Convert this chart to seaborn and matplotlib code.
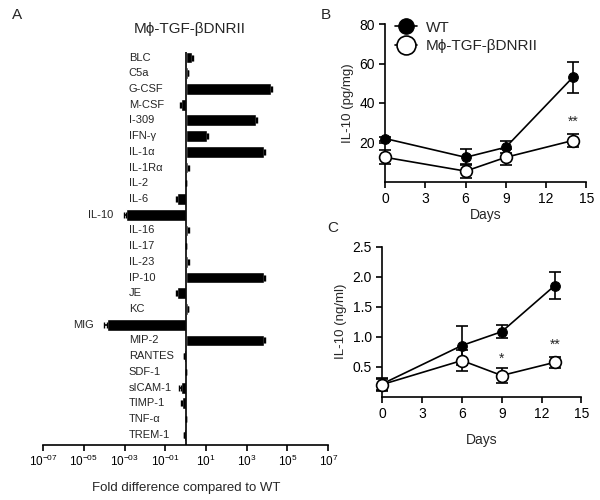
import numpy as np
import matplotlib
matplotlib.use("Agg")
import matplotlib.pyplot as plt
import seaborn as sns
from matplotlib.ticker import NullLocator


# -------------------------------------------------
# DATA
# -------------------------------------------------
cytokines = [
    "BLC", "C5a", "G-CSF", "M-CSF", "I-309", "IFN-γ", "IL-1α", "IL-1Rα",
    "IL-2", "IL-6", "IL-10", "IL-16", "IL-17", "IL-23", "IP-10", "JE", "KC",
    "MIG", "MIP-2", "RANTES", "SDF-1", "sICAM-1", "TIMP-1", "TNF-α", "TREM-1",
]
fold_change = [
    2.1, 1.25, 1.6e4, 0.57, 2.9e3, 11.5, 6.9e3, 1.3,
    1.02, 0.39, 1.15e-3, 1.3, 1.05, 1.3, 6.9e3, 0.39, 1.25,
    1.35e-4, 6.9e3, 0.87, 1.0, 0.57, 0.64, 1.0, 0.87,
]
fold_err = [
    0.3, 0.1, 1.5e3, 0.06, 3e2, 1.0, 7e2, 0.1,
    0.02, 0.05, 0.26e-3, 0.1, 0.02, 0.1, 7e2, 0.06, 0.1,
    0.35e-4, 1.4e3, 0.05, 0.01, 0.08, 0.06, 0.01, 0.05,
]
fold_ticks = [1e-7, 1e-5, 1e-3, 1e-1, 1e1, 1e3, 1e5, 1e7]
fold_tick_labels = ["10$^{-07}$", "10$^{-05}$", "10$^{-03}$", "10$^{-01}$",
                    "10$^{1}$", "10$^{3}$", "10$^{5}$", "10$^{7}$"]

# panel B: IL-10 (pg/mg)
days_b = [0, 6, 9, 14]
wt_b = [22, 12.5, 17.6, 53]
wt_b_err = [1.0, 4.0, 3.0, 8.0]
ko_b = [12.5, 5.5, 12.5, 21]
ko_b_err = [3.5, 3.5, 4.0, 3.5]

# panel C: IL-10 (ng/ml)
days_c = [0, 6, 9, 13]
wt_c = [0.21, 0.85, 1.08, 1.85]
wt_c_err = [0.1, 0.32, 0.11, 0.23]
ko_c = [0.2, 0.6, 0.35, 0.57]
ko_c_err = [0.1, 0.17, 0.12, 0.09]

KO_NAME = "Mϕ-TGF-βDNRII"


# -------------------------------------------------
# STYLE
# -------------------------------------------------
sns.set_style("ticks")
plt.rcParams["font.family"] = ["Liberation Sans", "DejaVu Sans"]
plt.rcParams["mathtext.default"] = "regular"
plt.rcParams["axes.linewidth"] = 1.2
plt.rcParams["xtick.major.width"] = 1.2
plt.rcParams["ytick.major.width"] = 1.2
plt.rcParams["xtick.color"] = "black"
plt.rcParams["ytick.color"] = "black"
plt.rcParams["axes.edgecolor"] = "black"


# -------------------------------------------------
# PANEL A - FOLD DIFFERENCE BARS
# -------------------------------------------------
def plot_fold_bars(ax):
    fold = np.array(fold_change)
    err = np.array(fold_err)
    ypos = np.arange(len(cytokines))

    ax.set_xscale("log")
    ax.barh(ypos, fold - 1, left=1, height=0.75, color="black")

    # error bars only on the outer side of each bar
    lower = np.where(fold < 1, err, 0)
    upper = np.where(fold >= 1, err, 0)
    ax.errorbar(fold, ypos, xerr=[lower, upper], fmt="none",
                ecolor="black", elinewidth=1.2, capsize=2.5)

    ax.axvline(1, color="black", lw=1.2)

    label_start = 1.6e-3
    for y, name, v, e in zip(ypos, cytokines, fold, err):
        if v - e < label_start * 3:
            ax.text((v - e) * 0.3, y, name, ha="right", va="center", fontsize=8)
        else:
            ax.text(label_start, y, name, ha="left", va="center", fontsize=8)

    ax.set_xlim(1e-7, 1e7)
    ax.set_ylim(len(cytokines) - 0.35, -0.35)
    ax.set_xticks(fold_ticks)
    ax.set_xticklabels(fold_tick_labels, fontsize=8.5)
    ax.xaxis.set_minor_locator(NullLocator())
    ax.set_yticks([])
    ax.tick_params(axis="x", length=4, pad=2)
    sns.despine(ax=ax, left=True)

    ax.set_title(KO_NAME, fontsize=11, pad=14, x=0.515)
    ax.set_xlabel("Fold difference compared to WT", fontsize=9.5, labelpad=10)


# -------------------------------------------------
# PANELS B / C - TIME COURSE
# -------------------------------------------------
def plot_time_course(ax, days, wt, wt_err, ko, ko_err):
    sns.lineplot(x=days, y=wt, ax=ax, color="black", lw=1.2, marker="o",
                 markersize=7, markerfacecolor="black", markeredgecolor="black",
                 label="WT", sort=False, errorbar=None, clip_on=False, zorder=3)
    ax.errorbar(days, wt, yerr=wt_err, fmt="none", ecolor="black",
                elinewidth=1.2, capsize=4.5, capthick=1.2, clip_on=False, zorder=2)

    sns.lineplot(x=days, y=ko, ax=ax, color="black", lw=1.2, marker="o",
                 markersize=8.5, markerfacecolor="white", markeredgecolor="black",
                 markeredgewidth=1.2, label=KO_NAME, sort=False, errorbar=None,
                 clip_on=False, zorder=5)
    ax.errorbar(days, ko, yerr=ko_err, fmt="none", ecolor="black",
                elinewidth=1.2, capsize=4.5, capthick=1.2, clip_on=False, zorder=4)

    ax.set_xlim(0, 15)
    ax.set_xticks([0, 3, 6, 9, 12, 15])
    ax.tick_params(labelsize=10, length=4)
    sns.despine(ax=ax)


fig = plt.figure(figsize=(6, 5), dpi=100)

axA = fig.add_axes([0.072, 0.11, 0.475, 0.786])
plot_fold_bars(axA)

axB = fig.add_axes([0.642, 0.636, 0.335, 0.316])
plot_time_course(axB, days_b, wt_b, wt_b_err, ko_b, ko_b_err)
axB.set_ylim(0, 80)
axB.set_yticks([20, 40, 60, 80])
axB.set_ylabel("IL-10 (pg/mg)", fontsize=9.5)
axB.set_xlabel("Days", fontsize=10, labelpad=1)
axB.text(14, 27, "**", ha="center", va="bottom", fontsize=10)
axB.legend(loc="upper left", bbox_to_anchor=(0.02, 1.06), frameon=False,
           fontsize=11, markerscale=1.6, handlelength=1.4, handletextpad=0.6,
           labelspacing=0.3, borderaxespad=0)

axC = fig.add_axes([0.637, 0.207, 0.332, 0.30])
plot_time_course(axC, days_c, wt_c, wt_c_err, ko_c, ko_c_err)
axC.set_ylim(0, 2.5)
axC.set_yticks([0.5, 1.0, 1.5, 2.0, 2.5])
axC.set_ylabel("IL-10 (ng/ml)", fontsize=9.5)
axC.set_xlabel("Days", fontsize=10, labelpad=9)
axC.text(9, 0.52, "*", ha="center", va="bottom", fontsize=10)
axC.text(13, 0.74, "**", ha="center", va="bottom", fontsize=10)
axC.get_legend().remove()

fig.text(0.02, 0.97, "A", fontsize=11, va="center")
fig.text(0.535, 0.97, "B", fontsize=11, va="center")
fig.text(0.545, 0.545, "C", fontsize=11, va="center")

plt.savefig("out.png", dpi=100)
